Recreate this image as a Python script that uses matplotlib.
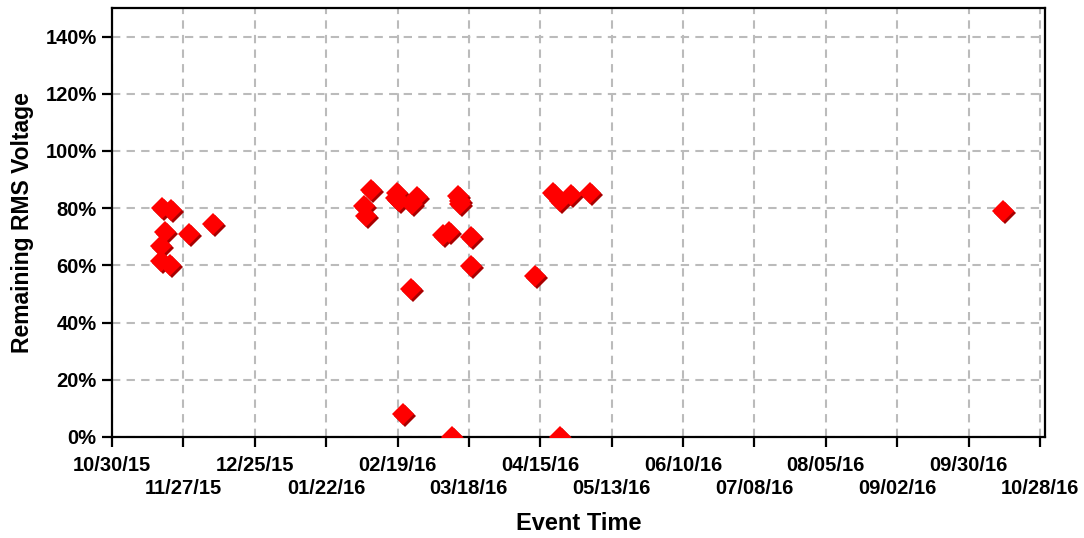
import matplotlib
matplotlib.use("Agg")
import matplotlib.pyplot as plt
import matplotlib.dates as mdates
import matplotlib.transforms as mtransforms
import pandas as pd

plt.rcParams['font.family'] = ['Liberation Sans', 'DejaVu Sans']

event_times = [
    "2015-11-18 12:00", "2015-11-22 02:00", "2015-11-19 20:00", "2015-11-18 02:00",
    "2015-11-18 05:00", "2015-11-21 17:00", "2015-11-29 07:00", "2015-12-08 17:00",
    "2016-02-08 12:00", "2016-02-05 22:00", "2016-02-06 19:00", "2016-02-18 19:00",
    "2016-02-19 14:00", "2016-02-18 12:00", "2016-02-24 12:00", "2016-02-26 17:00",
    "2016-02-24 05:00", "2016-02-21 00:00", "2016-03-11 12:00", "2016-03-10 05:00",
    "2016-03-08 00:00", "2016-03-13 19:00", "2016-03-14 17:00", "2016-03-14 10:00",
    "2016-03-18 17:00", "2016-03-18 17:00",
    "2016-04-12 19:00", "2016-04-20 00:00", "2016-04-22 14:00", "2016-04-27 05:00",
    "2016-05-04 14:00", "2016-04-22 14:00", "2016-10-13 10:00",
]
remaining_rms = [
    80.2, 79.3, 71.8, 66.9, 61.4, 60.3, 71.0, 74.4,
    86.3, 80.8, 77.3, 85.4, 82.5, 83.5, 81.4, 83.9,
    51.8, 8.0, 0.0, 71.8, 70.7, 84.3, 81.4, 82.6,
    70.1, 59.7,
    56.4, 85.4, 82.5, 84.6, 85.2, 0.0, 79.0,
]

tick_dates = ["2015-10-30", "2015-11-27", "2015-12-25", "2016-01-22", "2016-02-19",
              "2016-03-18", "2016-04-15", "2016-05-13", "2016-06-10", "2016-07-08",
              "2016-08-05", "2016-09-02", "2016-09-30", "2016-10-28"]
tick_labels = ["10/30/15", "11/27/15", "12/25/15", "01/22/16", "02/19/16", "03/18/16",
               "04/15/16", "05/13/16", "06/10/16", "07/08/16", "08/05/16", "09/02/16",
               "09/30/16", "10/28/16"]
y_ticks = [0, 20, 40, 60, 80, 100, 120, 140]

x = pd.to_datetime(event_times)
tx = pd.to_datetime(tick_dates)

fig = plt.figure(figsize=(10.84, 5.38), dpi=100)
ax = fig.add_axes([112/1084, 1-437/538, (1045-112)/1084, (437-8)/538])

shadow = mtransforms.offset_copy(ax.transData, fig=fig, x=2, y=-2, units='dots')
ax.plot(x, remaining_rms, linestyle='none', marker='D', markersize=11.5,
        color='#a80000', markeredgewidth=0, transform=shadow, zorder=3)
ax.plot(x, remaining_rms, linestyle='none', marker='D', markersize=11.5,
        color='#ff0000', markeredgewidth=0, zorder=4)

ax.set_xlim(pd.Timestamp("2015-10-30"), pd.Timestamp("2016-10-30"))
ax.set_ylim(0, 150)
ax.set_yticks(y_ticks)
ax.set_yticklabels([f"{v}%" for v in y_ticks])
ax.set_xticks(tx)
ax.set_xticklabels([("\n" + l) if i % 2 else l for i, l in enumerate(tick_labels)])

ax.grid(True, color='#bbbbbb', linestyle=(0, (4, 3)), linewidth=1.5, zorder=0)
ax.set_axisbelow(True)

for s in ax.spines.values():
    s.set_linewidth(1.6)
    s.set_color('black')

ax.tick_params(axis='both', direction='out', length=7, width=1.6, labelsize=14.5, pad=4)
ax.tick_params(axis='x', pad=7)
for lab in ax.get_xticklabels() + ax.get_yticklabels():
    lab.set_fontweight('bold')
for lab in ax.get_xticklabels():
    lab.set_linespacing(1.25)

ax.set_xlabel("Event Time", fontsize=17, fontweight='bold', labelpad=10)
ax.set_ylabel("Remaining RMS Voltage", fontsize=16.5, fontweight='bold', labelpad=8)

fig.savefig("out.png", dpi=100)
